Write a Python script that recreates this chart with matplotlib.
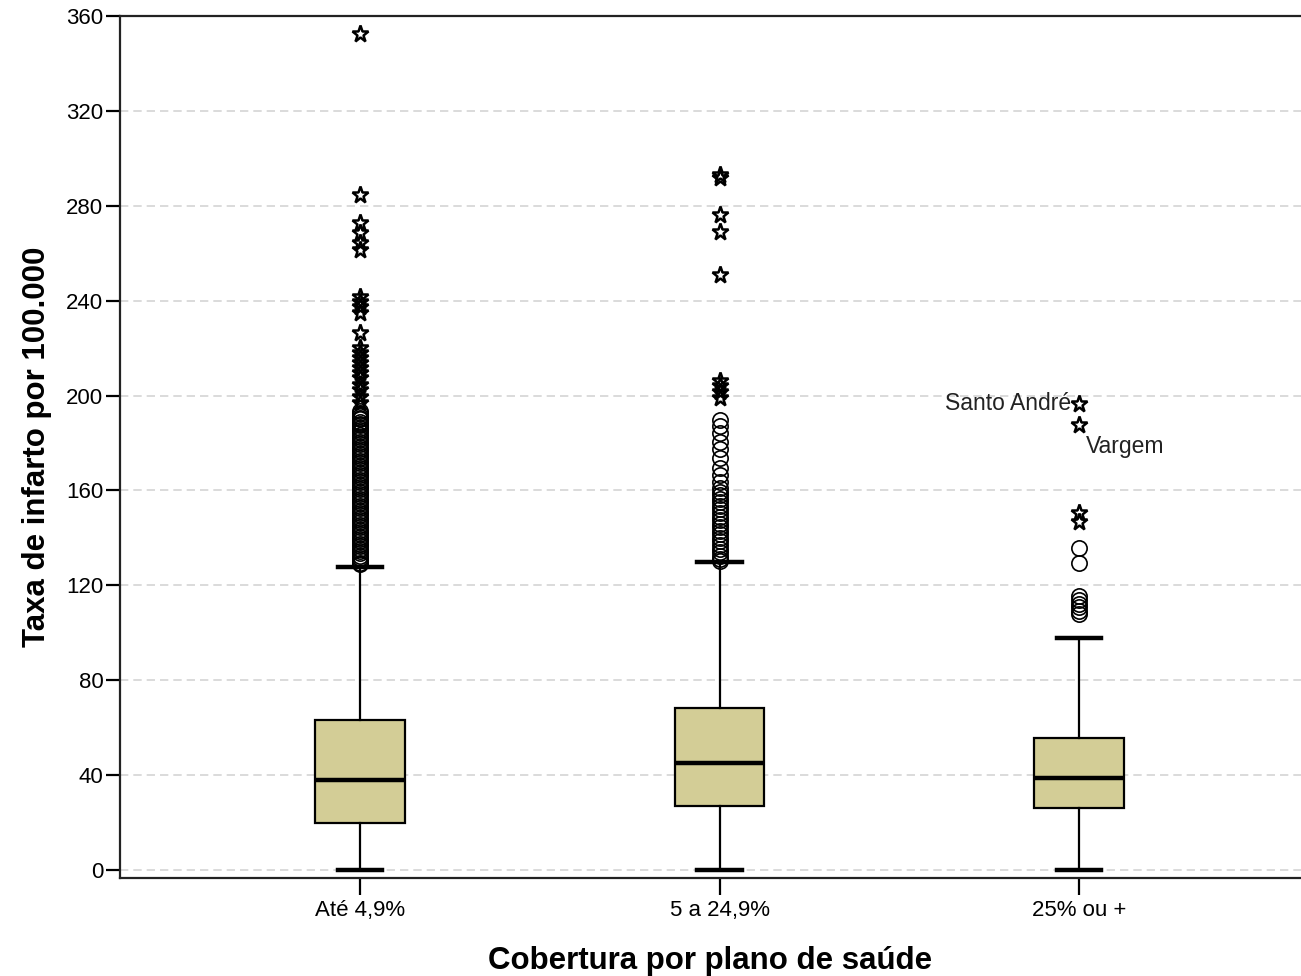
import matplotlib
matplotlib.use("Agg")
import matplotlib.pyplot as plt

plt.rcParams['font.family'] = ['Liberation Sans', 'DejaVu Sans']

categories = ["Até 4,9%", "5 a 24,9%", "25% ou +"]
q1 = [19.8, 27.0, 26.1]
median = [37.9, 45.1, 38.8]
q3 = [63.2, 68.3, 55.6]
whisker_low = [0.0, 0.0, 0.0]
whisker_high = [127.7, 129.8, 97.8]

circles_g1 = [193.5, 192.5, 191.5, 190.5, 190, 189, 188, 187.5, 186.5, 185.5, 184.5,
              183.5, 182.5, 181.5, 180.5, 179.5, 178.5, 177.5, 176.5, 175.5, 174.5,
              173.5, 172.5, 171.5, 170.5, 169.5, 168.5, 167.5, 166.5, 165.5, 164.5,
              163.5, 162.5, 161.5, 160.5, 159.5, 158.5, 157.5, 156.5, 155.5, 154.5,
              153.5, 152.5, 151.5, 150.5, 149.5, 148.5, 147.5, 146.5, 145.5, 144.5,
              143.5, 142.5, 141.5, 140.5, 139.5, 138.5, 137.5, 136.5, 135.5, 134.5,
              133.5, 132.5, 131.5, 130.5, 129.5, 128.8]
stars_g1 = [352.4, 284.6, 272.8, 268.5, 264.3, 261.4, 241.6, 239.5, 237.3, 234.6,
            226.4, 220.0, 218.0, 215.9, 213.7, 211.6, 209.5, 207.4, 204.5, 202.4,
            199.4, 196.9]

circles_g2 = [189.7, 187.2, 184.3, 180.5, 177.6, 173.8, 169.5, 166.6, 163.6, 161.0,
              159.5, 158.0, 156.5, 155.0, 153.5, 152.0, 150.5, 149.0, 147.5, 146.0,
              144.5, 143.0, 141.5, 140.0, 138.5, 137.0, 135.5, 134.0, 132.5, 131.2,
              130.4]
stars_g2 = [293.0, 291.7, 276.0, 269.0, 250.8, 206.0, 204.0, 201.5, 199.0]

circles_g3 = [135.7, 129.4, 115.3, 113.8, 112.3, 110.8, 109.3, 107.8]
stars_g3 = [196.5, 187.6, 150.5, 146.7]

labels_g3 = [("Santo André", 196.5), ("Vargem", 187.6)]

yticks = [0, 40, 80, 120, 160, 200, 240, 280, 320, 360]

fig = plt.figure(figsize=(13.01, 9.76), dpi=100)
ax = fig.add_axes([120 / 1301, 1 - 878 / 976, 1181 / 1301, 862 / 976])

positions = [1, 2, 3]
circles = [circles_g1, circles_g2, circles_g3]
stars = [stars_g1, stars_g2, stars_g3]

stats = []
for i in range(3):
    stats.append(dict(med=median[i], q1=q1[i], q3=q3[i],
                      whislo=whisker_low[i], whishi=whisker_high[i],
                      fliers=circles[i], label=categories[i]))

ax.bxp(stats, positions=positions, widths=0.25, patch_artist=True,
       boxprops=dict(facecolor="#d3cd96", edgecolor="black", linewidth=1.6),
       medianprops=dict(color="black", linewidth=3.2),
       whiskerprops=dict(color="black", linewidth=1.6),
       capprops=dict(color="black", linewidth=3.2),
       capwidths=0.125,
       flierprops=dict(marker="o", markerfacecolor="none", markeredgecolor="black",
                       markersize=11, markeredgewidth=1.2, linestyle="none"),
       zorder=3)

for p, s in zip(positions, stars):
    ax.plot([p] * len(s), s, linestyle="none", marker="*", markersize=12.5,
            markerfacecolor="none", markeredgecolor="black", markeredgewidth=1.8,
            zorder=4)

# labels for named outliers in group 3
ax.text(3 - 0.022, labels_g3[0][1], labels_g3[0][0], ha="right", va="center",
        fontsize=16.5, color="#222222")
ax.text(3 + 0.02, labels_g3[1][1] - 9, labels_g3[1][0], ha="left", va="center",
        fontsize=16.5, color="#222222")

ax.set_xlim(0.3324, 3.6175)
ax.set_ylim(-3.37, 360)
ax.set_yticks(yticks)
ax.set_yticklabels([str(v) for v in yticks])
ax.set_xticks(positions)
ax.set_xticklabels(categories)

for v in yticks:
    ax.axhline(v, color="#d4d4d4", linewidth=1.2, linestyle=(0, (5, 3)), zorder=1)

ax.spines['right'].set_visible(False)
for sp in ['left', 'top', 'bottom']:
    ax.spines[sp].set_linewidth(1.6)
    ax.spines[sp].set_color("#222222")

ax.tick_params(axis='y', direction='out', length=10, width=1.6, labelsize=16, pad=2)
ax.tick_params(axis='x', direction='out', length=12, width=1.6, labelsize=16, pad=4)

ax.set_ylabel("Taxa de infarto por 100.000", fontsize=22.5, fontweight="bold", labelpad=10)
ax.set_xlabel("Cobertura por plano de saúde", fontsize=22.5, fontweight="bold", labelpad=18)

fig.savefig("out.png", dpi=100)
